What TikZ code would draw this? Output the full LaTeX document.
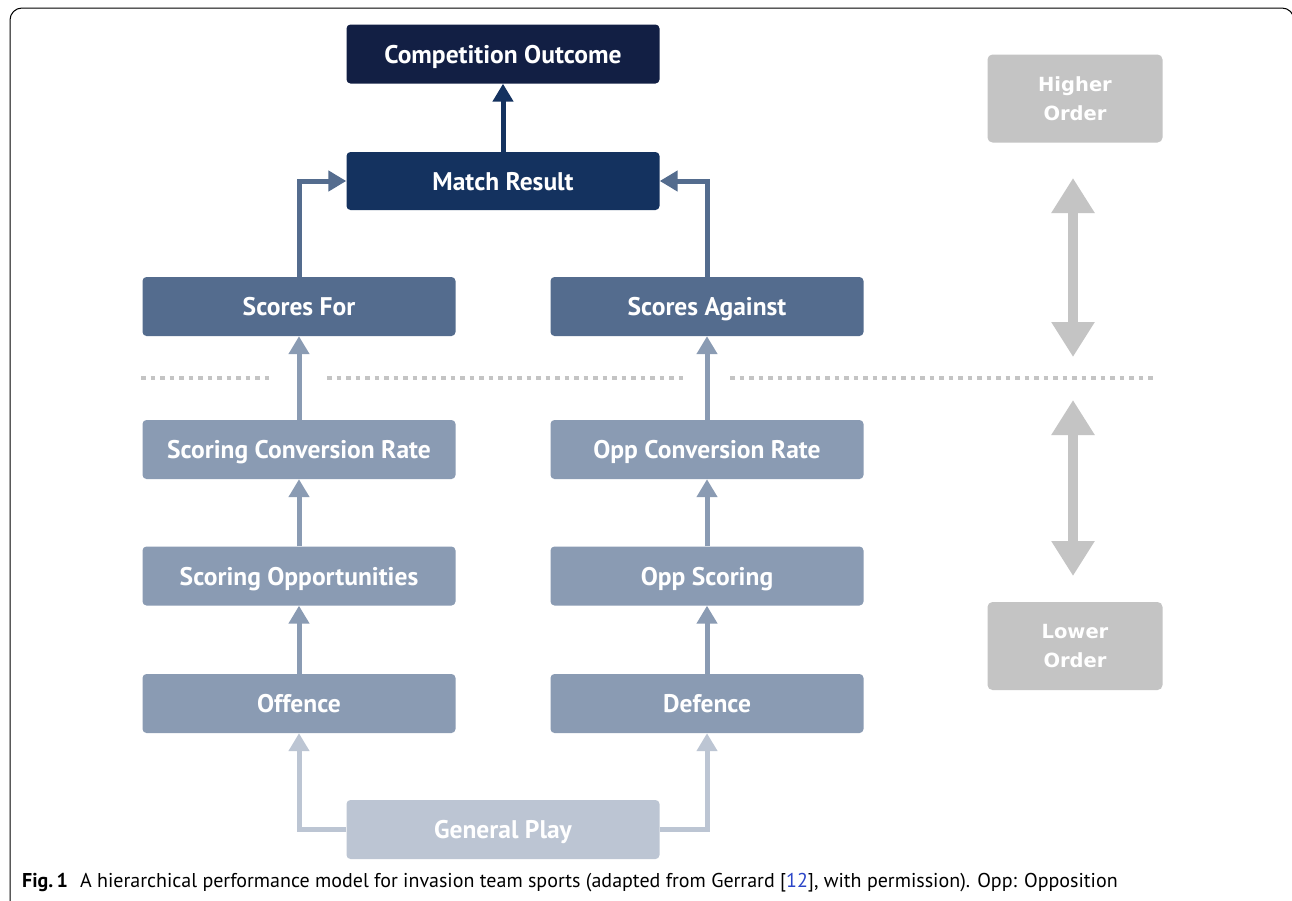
\documentclass[tikz,border=0pt]{standalone}
\usepackage{fontspec}
\setmainfont{PT Sans}
\newfontfamily\ordfont{DejaVu Sans}
\usetikzlibrary{arrows.meta}
\definecolor{cCO}{HTML}{121F44}
\definecolor{cMR}{HTML}{14325F}
\definecolor{cSC}{HTML}{546C8E}
\definecolor{cLO}{HTML}{8A9BB3}
\definecolor{cGP}{HTML}{BCC5D3}
\definecolor{cGR}{HTML}{C4C4C4}
\definecolor{cLink}{HTML}{2B45C8}
\begin{document}
\begin{tikzpicture}[x=1pt,y=-1pt,
 box/.style={rectangle, rounded corners=4pt, minimum width=313pt, minimum height=59pt, inner sep=0pt, text=white, text depth=0pt, font=\fontsize{25.5}{30}\selectfont\bfseries},
 ordbox/.style={rectangle, rounded corners=5pt, fill=cGR, minimum width=175pt, minimum height=88pt, inner sep=0pt, text=white, align=center, font=\ordfont\bfseries\fontsize{19.5}{28.5}\selectfont},
 arr/.style={line width=5pt, -{Triangle[length=18pt,width=20pt]}},
 bigarr/.style={line width=10pt, draw=cGR, {Triangle[length=35pt,width=41pt]}-{Triangle[length=35pt,width=41pt]}},
 sep/.style={draw=cGR, line width=4.5pt, dash pattern=on 4.5pt off 5pt},
]
\useasboundingbox (0,0) rectangle (1292,900);
\clip (0,0) rectangle (1292,900);
\fill[white] (0,0) rectangle (1292,900);
% frame
\draw[line width=1pt, black, rounded corners=12pt] (10,960) -- (10,8) -- (1294,8) -- (1294,960);

% separator
\draw[sep] (141,378) -- (269,378);
\draw[sep] (327,378) -- (683,378);
\draw[sep] (730,378) -- (1157,378);

% nodes
\node[box, fill=cCO] (co) at (503,54) {Competition Outcome};
\node[box, fill=cMR, minimum height=58pt] (mr) at (503,181) {Match Result};
\node[box, fill=cSC] (sf) at (299,306.5) {Scores For};
\node[box, fill=cSC] (sa) at (707,306.5) {Scores Against};
\node[box, fill=cLO] (scr) at (299,449.5) {Scoring Conversion Rate};
\node[box, fill=cLO] (ocr) at (707,449.5) {Opp Conversion Rate};
\node[box, fill=cLO] (so) at (299,576) {Scoring Opportunities};
\node[box, fill=cLO] (os) at (707,576) {Opp Scoring};
\node[box, fill=cLO] (off) at (299,703.5) {Offence};
\node[box, fill=cLO] (def) at (707,703.5) {Defence};
\node[box, fill=cGP] (gp) at (503,829.5) {General Play};

\node[ordbox] (ho) at (1075,98.5) {Higher\\Order};
\node[ordbox] (lo) at (1075,646) {Lower\\Order};

% connectors
\draw[arr, draw=cMR, fill=cMR] (mr) -- (co);
\draw[arr, draw=cSC] (sf.north) |- (mr.west);
\draw[arr, draw=cSC] (sa.north) |- (mr.east);
\draw[arr, draw=cLO] (scr) -- (sf);
\draw[arr, draw=cLO] (ocr) -- (sa);
\draw[arr, draw=cLO] (so) -- (scr);
\draw[arr, draw=cLO] (os) -- (ocr);
\draw[arr, draw=cLO] (off) -- (so);
\draw[arr, draw=cLO] (def) -- (os);
\draw[arr, draw=cGP] (gp.west) -| (off.south);
\draw[arr, draw=cGP] (gp.east) -| (def.south);

% order arrows
\coordinate (a1) at (1073,178);
\coordinate (a2) at (1073,357);
\coordinate (b1) at (1073,400);
\coordinate (b2) at (1073,576);
\draw[bigarr] (a1) -- (a2);
\draw[bigarr] (b1) -- (b2);

% caption
\node[anchor=base west, inner sep=0pt, font=\fontsize{20}{23}\selectfont] (cap) at (22,887)
 {\textbf{Fig.\,1}\hspace{0.6em}A hierarchical performance model for invasion team sports (adapted from Gerrard [\textcolor{cLink}{12}], with permission). Opp: Opposition};
\end{tikzpicture}
\end{document}
